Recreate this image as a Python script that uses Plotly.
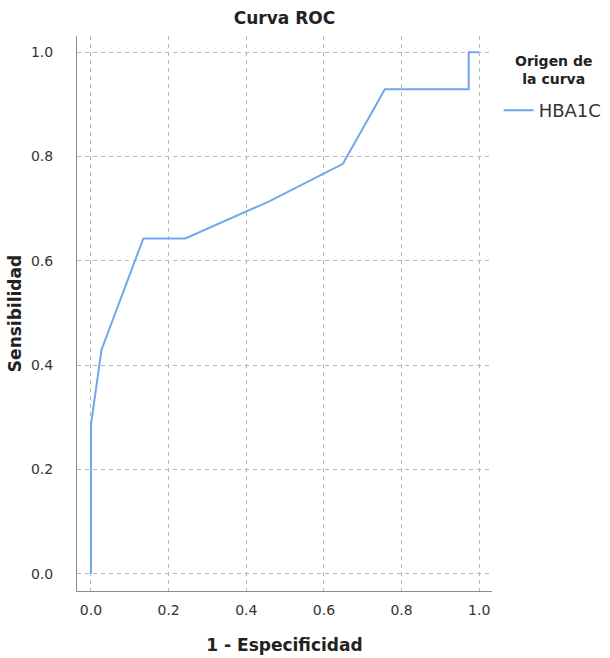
import plotly.graph_objects as go

# ROC curve data (1 - specificity, sensitivity)
fpr = [0.0, 0.0, 0.027, 0.135, 0.243, 0.459, 0.649, 0.757, 0.973, 0.973, 1.0]
tpr = [0.0, 0.286, 0.429, 0.643, 0.643, 0.714, 0.786, 0.929, 0.929, 1.0, 1.0]
series_name = "HBA1C"
tick_vals = [0.0, 0.2, 0.4, 0.6, 0.8, 1.0]
tick_text = ["0.0", "0.2", "0.4", "0.6", "0.8", "1.0"]

font_family = "DejaVu Sans"

fig = go.Figure()
fig.add_trace(go.Scatter(
    x=fpr, y=tpr, mode="lines", name=series_name,
    line=dict(color="#72a7ea", width=2),
))

axis_common = dict(
    tickvals=tick_vals, ticktext=tick_text, automargin=False,
    showgrid=True, gridcolor="#b8b8b8", griddash="4px,4px", gridwidth=1,
    zeroline=False, showline=True, linecolor="#8c8c8c", linewidth=1,
    ticks="", tickfont=dict(size=14, color="#333333", family=font_family),
)

fig.update_layout(
    width=610, height=658,
    margin=dict(l=77, r=118, t=36, b=67, autoexpand=False),
    paper_bgcolor="white", plot_bgcolor="white",
    title=dict(text="<b>Curva ROC</b>", x=(77 + 492) / 2 / 610, xanchor="center",
               y=1 - 18 / 658, yanchor="middle",
               font=dict(size=17, color="#222222", family=font_family)),
    xaxis=dict(axis_common, range=[-0.036, 1.033], ticklabelstandoff=6,
               title=dict(text="<b>1 - Especificidad</b>", standoff=22,
                          font=dict(size=17, color="#222222", family=font_family))),
    yaxis=dict(axis_common, range=[-0.033, 1.031], ticklabelstandoff=20,
               title=dict(text="<b>Sensibilidad</b>", standoff=4,
                          font=dict(size=17, color="#222222", family=font_family))),
    showlegend=True,
    legend=dict(x=1.016, xanchor="left", y=1 - (92 - 36) / 555, yanchor="top",
                font=dict(size=18, color="#333333", family=font_family),
                bgcolor="rgba(0,0,0,0)", itemwidth=30),
)

fig.add_annotation(
    text="<b>Origen de<br>la curva</b>", xref="paper", yref="paper",
    x=(553 - 77) / 415, y=1 - (70 - 36) / 555, xanchor="center", yanchor="middle",
    showarrow=False, align="center",
    font=dict(size=14, color="#222222", family=font_family),
)

fig.write_html("out.html")
